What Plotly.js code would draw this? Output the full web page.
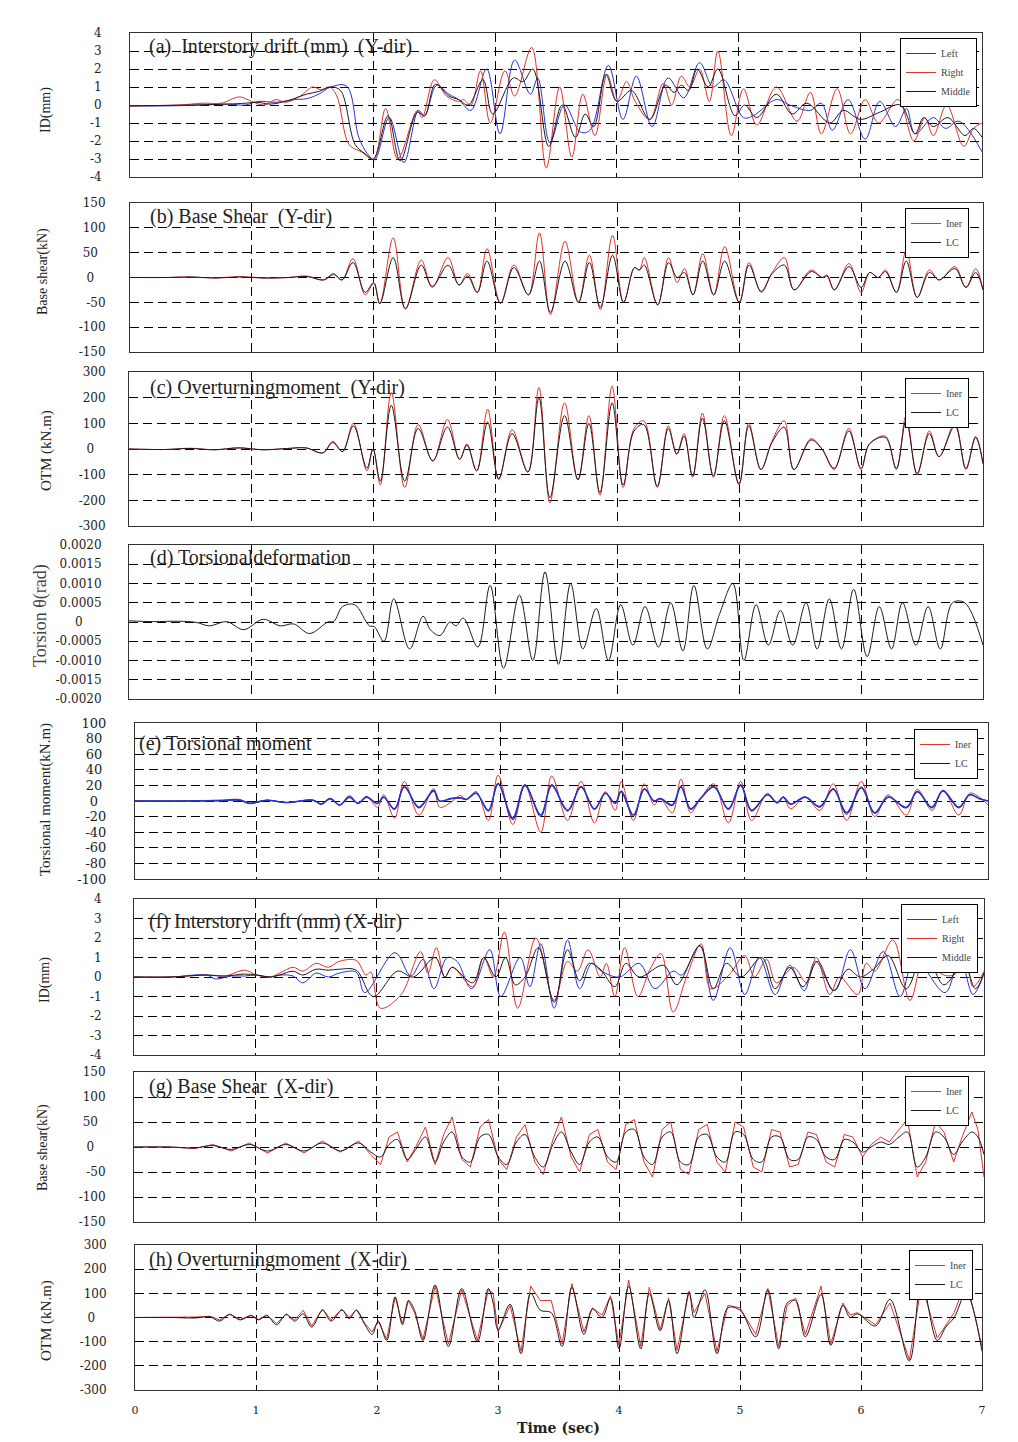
<!DOCTYPE html>
<html><head><meta charset="utf-8">
<script src="https://cdn.plot.ly/plotly-3.0.1.min.js"></script>
<style>html,body{margin:0;padding:0;background:#fff}#chart{width:1018px;height:1442px}</style>
</head><body><div id="chart"></div>
<script>
// ---------- DATA ----------
// (a) Interstory drift Y-dir
const aLeftT = [0,0.3,0.6,0.8,0.95,1.05,1.2,1.35,1.45,1.55,1.65,1.78,1.88,1.95,2.01,2.13,2.25,2.37,2.42,2.52,2.62,2.7,2.8,2.93,3.04,3.16,3.29,3.35,3.45,3.57,3.7,3.78,3.93,4.05,4.16,4.29,4.42,4.55,4.68,4.79,4.88,5.04,5.12,5.31,5.42,5.59,5.68,5.77,5.9,6.04,6.16,6.29,6.38,6.45,6.6,6.7,6.81,7.0];
const aLeftV = [-0.05,-0.05,0,0.05,0,0.2,0.15,0.3,0.35,0.6,1.0,1.05,-1.8,-2.7,-3.05,-0.7,-3.2,-0.3,-0.6,1.1,0.6,0.3,-0.3,2.0,-1.6,2.5,0.6,1.5,-2.1,0,-1.5,-1.4,2.2,-0.8,1.6,-1.2,1.5,0.4,2.35,1.0,1.4,-0.7,-0.6,0.3,0,-0.3,0.1,-1.4,0.3,-1.9,0.2,-1.2,-0.2,-1.6,-0.7,-1.3,-0.9,-2.6];
const aRightT = [0,0.4,0.6,0.75,0.9,1.0,1.1,1.2,1.28,1.4,1.5,1.57,1.64,1.7,1.8,1.9,2.0,2.1,2.2,2.36,2.4,2.5,2.6,2.7,2.74,2.8,2.88,2.96,3.08,3.16,3.3,3.42,3.53,3.63,3.72,3.82,3.92,4.0,4.08,4.15,4.27,4.38,4.45,4.53,4.6,4.68,4.76,4.83,4.94,5.04,5.15,5.31,5.48,5.59,5.68,5.81,5.92,6.04,6.15,6.31,6.44,6.53,6.6,6.71,6.85,6.93,7.0];
const aRightV = [-0.05,0,0.1,0.1,0.45,0.2,0,0.3,0.15,0.5,1.0,0.85,1.0,0.5,-2.2,-2.6,-3.0,-0.2,-3.0,-0.3,-0.7,1.4,0.5,0.2,0.3,0,1.9,-1.0,1.9,0.5,3.2,-3.5,1.0,-2.9,0.6,-1.7,1.7,0.2,1.3,0.2,-0.8,1.2,0,1.6,1.0,2.0,0.2,3.0,-1.7,0.9,-1.1,1.0,-0.9,0.7,-1.6,0.9,-1.6,0.3,-1.0,0.3,-2.0,-0.7,-1.7,0,-2.3,-1.3,-1.0];
const aMidT = [0,0.5,0.8,0.95,1.05,1.15,1.3,1.45,1.55,1.65,1.73,1.85,1.93,2.0,2.12,2.22,2.36,2.42,2.51,2.62,2.7,2.78,2.9,2.98,3.15,3.23,3.31,3.44,3.55,3.66,3.74,3.81,3.91,4.0,4.12,4.27,4.4,4.47,4.53,4.59,4.66,4.75,4.83,4.97,5.05,5.15,5.31,5.44,5.56,5.75,5.86,6.0,6.16,6.33,6.45,6.52,6.6,6.72,6.86,6.93,7.0];
const aMidV = [-0.05,0,0.05,0.1,0.15,0.05,0.25,0.6,0.75,1.0,0.8,-2.2,-2.7,-3.0,-0.6,-3.1,-0.4,-0.6,1.15,0.5,0.3,0,1.4,-0.5,1.5,1.3,2.0,-2.3,0,-1.8,-0.5,-1.2,1.7,0.2,0.8,-0.8,1.1,0.7,1.1,0.8,2.0,1.0,2.0,-0.6,0,-0.7,0.6,-0.5,0.1,-1.0,-0.3,-0.8,-0.4,0,-1.6,-0.7,-1.2,-0.7,-1.7,-1.3,-1.8];

// (b) Base shear Y-dir
const bT = [0,0.3,0.5,0.7,0.9,1.1,1.3,1.45,1.59,1.67,1.74,1.83,1.93,2.0,2.05,2.16,2.26,2.39,2.48,2.61,2.7,2.77,2.85,2.93,3.04,3.15,3.27,3.36,3.45,3.57,3.68,3.77,3.86,3.96,4.05,4.14,4.18,4.22,4.33,4.42,4.49,4.55,4.62,4.70,4.79,4.88,5.0,5.08,5.18,5.27,5.37,5.45,5.59,5.68,5.72,5.78,5.9,6.0,6.07,6.14,6.2,6.29,6.37,6.46,6.56,6.64,6.77,6.86,6.94,7.0];
const bIner = [0,0,1,-1,2,-1,0,3,-5,8,-5,38,-35,-12,-53,80,-63,35,-20,40,-15,8,-30,58,-52,25,-35,90,-75,73,-50,45,-65,85,-50,20,15,40,-55,40,-10,18,-35,48,-35,62,-50,30,-30,10,40,-25,15,0,5,-25,28,-30,10,0,15,-30,55,-40,15,-5,22,-20,18,-25];
const bLC = [0,0,1,-1,1,-1,0,2,-5,6,-5,30,-30,-10,-53,40,-63,25,-18,25,-15,3,-30,33,-52,20,-35,33,-70,33,-50,30,-60,45,-50,20,15,25,-55,30,0,10,-35,33,-35,33,-50,25,-28,8,25,-25,12,0,3,-25,22,-20,10,0,12,-30,33,-40,10,-5,18,-20,10,-25];

// (c) Overturning moment Y-dir
const cT = [0,0.3,0.5,0.7,0.9,1.1,1.3,1.45,1.59,1.67,1.75,1.84,1.95,2.0,2.06,2.15,2.26,2.37,2.49,2.61,2.71,2.77,2.85,2.94,3.03,3.14,3.27,3.36,3.45,3.57,3.68,3.77,3.86,3.96,4.05,4.14,4.22,4.33,4.42,4.49,4.55,4.62,4.70,4.79,4.88,5.0,5.08,5.18,5.27,5.37,5.45,5.59,5.68,5.78,5.9,6.0,6.07,6.2,6.29,6.37,6.46,6.56,6.64,6.77,6.86,6.94,7.0];
const cIner = [0,-2,3,-3,5,-3,2,5,-15,30,-10,100,-85,0,-140,220,-150,95,-48,115,-40,20,-85,155,-120,75,-90,240,-210,180,-120,130,-180,245,-150,80,110,-150,90,-20,60,-110,140,-110,130,-140,100,-80,30,110,-80,40,0,-80,80,-80,20,50,-80,130,-100,70,-30,100,-80,50,-60];
const cLC = [0,-2,2,-3,4,-3,2,4,-15,25,-10,90,-75,0,-125,170,-125,80,-45,85,-40,15,-85,105,-115,60,-90,200,-190,130,-120,100,-170,180,-140,70,95,-145,80,-20,50,-105,120,-105,110,-135,90,-80,25,85,-80,35,0,-75,70,-75,20,45,-75,110,-95,60,-30,90,-75,45,-55];

// (d) Torsional deformation
const dT = [0,0.2,0.4,0.55,0.66,0.8,0.94,1.1,1.24,1.35,1.48,1.63,1.68,1.75,1.85,1.97,2.01,2.09,2.17,2.3,2.41,2.47,2.55,2.63,2.68,2.74,2.86,2.96,3.07,3.2,3.31,3.41,3.52,3.62,3.72,3.83,3.93,4.03,4.13,4.23,4.34,4.44,4.54,4.63,4.74,4.84,4.95,5.04,5.14,5.24,5.34,5.44,5.55,5.64,5.74,5.84,5.94,6.05,6.15,6.25,6.34,6.45,6.55,6.65,6.75,6.85,7.0];
const dV = [0.00003,0.00001,0.00002,-0.00001,-0.0001,0.00001,-0.0002,0.00007,-0.0001,-0.00005,-0.0003,0,0.00002,0.0004,0.00045,-0.0001,-0.00012,-0.0005,0.0006,-0.0007,0.00015,-0.0002,-0.00035,0,-0.0001,0.0001,-0.00065,0.00095,-0.0012,0.0007,-0.001,0.0013,-0.0011,0.001,-0.0007,0.00035,-0.001,0.00045,-0.0006,0.0004,-0.00065,0.0005,-0.00075,0.00095,-0.0007,0.0002,0.001,-0.001,0.00045,-0.0006,0.0003,-0.0006,0.0005,-0.0007,0.0006,-0.0007,0.00085,-0.0009,0.0004,-0.0007,0.0005,-0.0006,0.0004,-0.0007,0.0005,0.0005,-0.0006];

// (e) Torsional moment
const eT = [0,0.4,0.7,0.86,0.94,1.08,1.24,1.46,1.53,1.6,1.68,1.76,1.83,1.9,1.99,2.04,2.13,2.21,2.33,2.45,2.5,2.59,2.67,2.72,2.8,2.9,2.98,3.1,3.2,3.33,3.42,3.55,3.66,3.77,3.86,3.94,3.99,4.09,4.18,4.26,4.31,4.41,4.48,4.56,4.64,4.75,4.87,4.97,5.06,5.19,5.27,5.32,5.38,5.5,5.62,5.73,5.84,5.96,6.07,6.18,6.33,6.42,6.54,6.63,6.76,6.85,6.93,7.0];
const eIner = [0,0,1,2,-3,1,-2,1,-4,3,-5,7,-3,6,-8,8,-22,25,-18,16,-8,-2,7,2,12,-25,33,-30,20,-40,32,-25,25,-28,12,-12,25,-25,22,-5,3,-15,28,-15,3,22,-28,25,-25,10,-3,5,-10,5,-12,22,-25,25,-20,8,-18,15,-12,14,-18,10,5,-5];
const eLC = [0,0,0.5,1,-3,1,-2,1,-4,3,-5,5,-3,5,-3,5,-11,19,-9,14,0,3,4,2,10,-13,23,-24,21,-20,21,-13,19,-11,10,-3,13,-20,16,0,3,-6,19,-11,3,19,-11,21,-13,8,-2,5,-4,5,-8,16,-17,18,-16,5,-9,12,-9,13,-9,8,3,0];
const eBlue = [0,0,0.5,1,-3,1,-2,1,-4,3,-5,5,-3,5,-3,5,-10,18,-8,13,0,3,4,2,10,-12,22,-22,20,-18,20,-12,18,-10,10,-3,12,-18,15,0,3,-5,18,-10,3,18,-10,20,-12,8,-2,5,-4,5,-7,15,-15,17,-15,5,-8,12,-8,13,-8,8,3,0];

// (f) Interstory drift X-dir
const fLeftT = [0,0.3,0.6,0.67,0.8,0.91,1.01,1.12,1.2,1.31,1.39,1.5,1.6,1.69,1.83,1.9,2.15,2.28,2.38,2.47,2.58,2.66,2.78,2.93,3.02,3.18,3.26,3.35,3.46,3.57,3.67,3.77,3.85,4.0,4.16,4.29,4.44,4.51,4.66,4.77,4.91,5.03,5.15,5.28,5.4,5.52,5.61,5.77,5.9,6.02,6.17,6.31,6.43,6.68,6.8,6.91,7.0];
const fLeftV = [0,0,0.1,-0.1,0.05,0.05,0.1,0,0.1,0.05,-0.3,0.2,0,0.2,0.25,-0.8,1.25,0.05,0.9,-0.6,1.0,0.8,-0.6,1.4,-1.0,1.0,-0.5,1.7,-1.6,1.9,-0.6,0.7,0.3,0,0.7,-0.6,0.3,0.1,1.6,-1.2,1.5,-0.9,1.0,-0.9,0.6,-0.7,0.8,-0.7,1.4,-0.6,1.3,-1.0,0.9,-0.8,1.0,-0.9,0.2];
const fRightT = [0,0.3,0.6,0.75,0.91,1.01,1.12,1.2,1.31,1.39,1.5,1.6,1.69,1.83,1.91,1.95,2.03,2.2,2.36,2.42,2.49,2.56,2.62,2.79,2.88,2.96,3.05,3.16,3.31,3.46,3.57,3.65,3.74,3.84,3.89,3.96,4.04,4.15,4.25,4.34,4.44,4.55,4.67,4.75,4.9,5.03,5.11,5.21,5.29,5.43,5.54,5.62,5.73,5.81,5.96,6.03,6.1,6.25,6.39,6.53,6.64,6.75,6.85,6.91,7.0];
const fRightV = [0,0,0.1,0.05,0.35,0.1,0,0.2,0.5,0.3,0.7,0.5,0.8,0.85,0.1,0.25,-1.6,-0.9,1.3,0.2,1.5,0,0.5,-0.5,1.0,0,2.3,-1.6,2.0,-1.2,0.8,0.3,1.4,0,0.7,-1.0,1.5,-1.0,0.4,1.2,-1.8,0,1.7,-0.6,0.1,1.1,0,0.9,-0.3,0.5,-0.3,1.0,-0.9,0,-0.9,0.7,0.3,1.9,-1.2,1.8,0.2,0.1,0.8,-0.5,0.3];
const fMidT = [0,0.3,0.6,0.75,0.91,1.01,1.12,1.2,1.31,1.39,1.5,1.6,1.69,1.83,1.97,2.17,2.3,2.48,2.56,2.62,2.79,2.88,2.98,3.06,3.14,3.22,3.33,3.46,3.57,3.67,3.75,3.84,3.96,4.05,4.16,4.36,4.47,4.66,4.77,4.88,5.0,5.17,5.28,5.4,5.51,5.63,5.76,5.88,5.98,6.09,6.21,6.36,6.51,6.67,6.83,6.93,7.0];
const fMidV = [0,0,0.1,0.05,0.15,0.1,0,0.1,0.3,0.1,0.4,0.35,0.4,0.35,-1.0,0.3,0,1.0,0,0.5,-0.3,1.0,0,1.0,-0.4,0,1.5,-1.3,1.4,-0.2,0.7,0.4,-0.5,0.7,0,0.6,-0.4,1.6,-0.6,0.7,0,1.0,-0.6,0.5,-0.5,0.8,-0.7,0.4,0,0.4,1.1,-0.6,1.3,-0.4,0.7,-0.6,0.2];

// (g) Base shear X-dir
const gT = [0,0.3,0.5,0.65,0.8,0.95,1.1,1.25,1.4,1.55,1.7,1.85,1.95,2.03,2.1,2.17,2.25,2.32,2.4,2.48,2.55,2.62,2.7,2.77,2.85,2.92,3.0,3.07,3.15,3.22,3.3,3.37,3.45,3.52,3.6,3.67,3.75,3.82,3.9,3.97,4.05,4.12,4.2,4.27,4.35,4.42,4.5,4.57,4.65,4.72,4.8,4.87,4.95,5.02,5.1,5.17,5.25,5.32,5.4,5.47,5.55,5.62,5.7,5.77,5.85,5.92,6.0,6.07,6.15,6.22,6.3,6.37,6.45,6.52,6.6,6.67,6.75,6.82,6.9,6.95,7.0];
const gIner = [0,0,-3,5,-8,8,-12,8,-12,12,-10,12,-15,-35,20,30,-30,0,40,-35,25,60,-25,-40,40,55,-25,-45,20,45,-30,-55,15,60,-20,-50,25,35,-30,-45,45,55,-30,-60,35,50,-45,-55,35,45,-30,-50,50,40,-40,-50,35,30,-40,-35,30,25,-30,-40,25,20,-20,5,20,10,35,55,-60,-30,50,30,-30,20,70,35,-60];
const gLC = [0,0,-2,3,-5,5,-8,5,-8,8,-8,8,-10,-20,5,15,-25,-5,20,-30,10,30,-20,-30,20,25,-20,-35,10,25,-20,-40,5,30,-10,-35,10,20,-20,-30,30,35,-20,-35,20,30,-30,-35,20,25,-20,-30,30,25,-25,-30,20,20,-25,-25,20,15,-20,-25,15,10,-10,0,10,5,20,30,-40,-20,30,20,-15,10,30,20,-15];

// (h) Overturning moment X-dir
const hT = [0,0.3,0.5,0.62,0.7,0.78,0.87,0.96,1.02,1.09,1.17,1.25,1.32,1.39,1.46,1.55,1.62,1.71,1.77,1.83,1.9,1.96,2.01,2.08,2.15,2.21,2.26,2.31,2.38,2.48,2.59,2.7,2.83,2.92,2.96,3.0,3.1,3.19,3.27,3.35,3.44,3.53,3.61,3.71,3.78,3.86,3.93,4.0,4.08,4.18,4.25,4.34,4.41,4.48,4.58,4.62,4.71,4.81,4.9,5.0,5.13,5.23,5.32,5.39,5.46,5.54,5.67,5.75,5.85,5.91,5.97,6.12,6.24,6.4,6.5,6.63,6.7,6.77,6.87,7.0];
const hIner = [0,0,2,5,-10,15,-8,10,-8,10,-25,15,-10,30,-35,35,-10,35,0,32,-25,-60,-15,-90,85,-25,70,20,-90,130,-110,115,-95,115,100,-60,50,-140,130,70,70,-110,140,-60,40,10,90,-115,155,-120,125,-50,80,-135,110,20,100,-140,50,40,-70,120,-120,50,80,-70,130,-110,60,10,20,-30,60,-175,140,-85,-30,20,155,-120];
const hLC = [0,0,-2,3,-15,12,-10,8,-10,8,-30,12,-15,15,-40,30,-15,30,-5,30,-30,-70,-15,-95,85,-30,70,30,-95,135,-120,120,-100,120,60,-50,55,-150,100,30,20,-120,125,-70,35,0,80,-130,130,-130,100,-55,70,-150,105,0,115,-150,40,30,-80,115,-130,60,70,-80,95,-115,50,0,15,-35,75,-180,150,-95,-40,0,100,-140];

// ---------- TICKS & TEXT ----------
const xTickVals = [0,1,2,3,4,5,6,7];
const xTickText = ['0','1','2','3','4','5','6','7'];
const idTickVals = [-4,-3,-2,-1,0,1,2,3,4];
const idTickText = ['-4','-3','-2','-1','0','1','2','3','4'];
const bsTickVals = [-150,-100,-50,0,50,100,150];
const bsTickText = ['-150','-100','-50','0\u00a0\u00a0\u00a0','50\u00a0\u00a0','100','150'];
const otmTickVals = [-300,-200,-100,0,100,200,300];
const otmTickText = ['-300','-200','-100','0\u00a0\u00a0\u00a0','100','200','300'];
const tdTickVals = [-0.002,-0.0015,-0.001,-0.0005,0,0.0005,0.001,0.0015,0.002];
const tdTickText = ['-0.0020','-0.0015','-0.0010','-0.0005','0\u00a0\u00a0\u00a0\u00a0\u00a0','0.0005','0.0010','0.0015','0.0020'];
const tmTickVals = [-100,-80,-60,-40,-20,0,20,40,60,80,100];
const tmTickText = ['-100','-80','-60','-40','-20','0\u00a0\u00a0','20\u00a0','40\u00a0','60\u00a0','80\u00a0','100'];

const panelTitles = ['(a)\u00a0 Interstory drift (mm)\u00a0 (Y-dir)','(b) Base Shear\u00a0 (Y-dir)','(c) Overturningmoment\u00a0 (Y-dir)','(d) Torsionaldeformation','(e) Torsional moment','(f) Interstory drift (mm) (X-dir)','(g) Base Shear\u00a0 (X-dir)','(h) Overturningmoment\u00a0 (X-dir)'];
const yTitles = ['ID(mm)','Base shear(kN)','OTM (kN.m)','Torsion \u03b8(rad)','Torsional moment(kN.m)','ID(mm)','Base shear(kN)','OTM (kN.m)'];
const xTitle = 'Time (sec)';

// ---------- LAYOUT GEOMETRY ----------
const W = 1018, H = 1442;
const panels = [
  {x0:130,x1:982,y0:33,y1:177,r:[-4,4],tv:idTickVals,tt:idTickText,so:25,fs:12, tx:147,ty:47, yx:46,yy:110,ys:14},
  {x0:130,x1:983,y0:203,y1:352,r:[-150,150],tv:bsTickVals,tt:bsTickText,so:21,fs:12, tx:148,ty:217, yx:43,yy:272,ys:14},
  {x0:129,x1:983,y0:372,y1:526,r:[-300,300],tv:otmTickVals,tt:otmTickText,so:20,fs:12, tx:148,ty:387, yx:46,yy:451,ys:15},
  {x0:129,x1:983,y0:545,y1:699,r:[-0.002,0.002],tv:tdTickVals,tt:tdTickText,so:24,fs:12, tx:148,ty:557, yx:40,yy:616,ys:18},
  {x0:135,x1:988,y0:723,y1:879,r:[-100,100],tv:tmTickVals,tt:tmTickText,so:25,fs:13, tx:137,ty:743, yx:45,yy:800,ys:15},
  {x0:134,x1:984,y0:899,y1:1055,r:[-4,4],tv:idTickVals,tt:idTickText,so:29,fs:12, tx:147,ty:921, yx:45,yy:980,ys:14},
  {x0:134,x1:984,y0:1072,y1:1222,r:[-150,150],tv:bsTickVals,tt:bsTickText,so:25,fs:12, tx:147,ty:1086, yx:43,yy:1148,ys:14},
  {x0:135,x1:982,y0:1245,y1:1390,r:[-300,300],tv:otmTickVals,tt:otmTickText,so:25,fs:12, tx:147,ty:1259, yx:46,yy:1321,ys:15}
];
const legendSpec = [
  {key:'legend', right:977, top:38},
  {key:'legend2', right:969, top:208},
  {key:'legend3', right:969, top:378},
  {key:'legend4', right:978, top:729},
  {key:'legend5', right:978, top:904},
  {key:'legend6', right:969, top:1076},
  {key:'legend7', right:973, top:1250}
];

const RED = '#e2302a', BLUE = '#2233d4', BLACK = '#1c1c1c';
const traces = [];
function add(i, x, y, name, color, legend, extra) {
  const s = i === 1 ? '' : String(i);
  const t = {type:'scatter', mode:'lines', x:x, y:y, name:name, xaxis:'x'+s, yaxis:'y'+s,
    line:{color:color, width:1, shape:'spline', smoothing:1}, hoverinfo:'skip', showlegend:!!legend};
  if (legend) t.legend = legend;
  traces.push(Object.assign(t, extra || {}));
}
add(1, aLeftT, aLeftV, 'Left', BLUE, 'legend');
add(1, aRightT, aRightV, 'Right', RED, 'legend');
add(1, aMidT, aMidV, 'Middle', BLACK, 'legend');
add(2, bT, bIner, 'Iner', RED, 'legend2');
add(2, bT, bLC, 'LC', BLACK, 'legend2');
add(3, cT, cIner, 'Iner', RED, 'legend3');
add(3, cT, cLC, 'LC', BLACK, 'legend3');
add(4, dT, dV, 'Torsion', BLACK, null);
add(5, eT, eIner, 'Iner', RED, 'legend4');
add(5, eT, eLC, 'LC', BLACK, 'legend4');
add(5, eT, eBlue, 'LC (blue)', BLUE, null, {line:{color:BLUE, width:1.6, shape:'spline', smoothing:1}});
add(6, fLeftT, fLeftV, 'Left', BLUE, 'legend5');
add(6, fRightT, fRightV, 'Right', RED, 'legend5');
add(6, fMidT, fMidV, 'Middle', BLACK, 'legend5');
add(7, gT, gIner, 'Iner', RED, 'legend6', {line:{color:RED, width:1, shape:'linear'}});
add(7, gT, gLC, 'LC', BLACK, 'legend6');
add(8, hT, hIner, 'Iner', RED, 'legend7', {line:{color:RED, width:1, shape:'linear'}});
add(8, hT, hLC, 'LC', BLACK, 'legend7');

const layout = {width:W, height:H, margin:{l:0,r:0,t:0,b:0,pad:0}, paper_bgcolor:'#fff', plot_bgcolor:'#fff',
  font:{family:'Liberation Serif', color:'#222'}, showlegend:true, annotations:[]};
const gridDash = '9px,5px';
panels.forEach(function(p, k) {
  const i = k + 1, s = i === 1 ? '' : String(i);
  layout['xaxis'+s] = {domain:[p.x0/W, p.x1/W], range:[0,7], anchor:'y'+s, tickmode:'array', tickvals:xTickVals, ticktext:xTickText,
    showticklabels: i === 8, ticks:'', showgrid:true, gridcolor:'#000', gridwidth:1, griddash:gridDash, zeroline:false,
    showline:true, mirror:true, linecolor:'#333', linewidth:1, fixedrange:true,
    tickfont:{family:'DejaVu Serif', size:11, color:'#222'}, ticklabelstandoff:10};
  layout['yaxis'+s] = {domain:[1-p.y1/H, 1-p.y0/H], range:p.r, anchor:'x'+s, tickmode:'array', tickvals:p.tv, ticktext:p.tt,
    ticks:'', showgrid:true, gridcolor:'#000', gridwidth:1, griddash:gridDash, zeroline:false,
    showline:true, mirror:true, linecolor:'#333', linewidth:1, fixedrange:true,
    tickfont:{family:'DejaVu Serif', size:p.fs, color:'#222'}, ticklabelstandoff:p.so};
  layout.annotations.push({text:panelTitles[k], xref:'paper', yref:'paper', x:p.tx/W, y:1-p.ty/H, xanchor:'left', yanchor:'middle',
    showarrow:false, font:{family:'Liberation Serif', size:20, color:'#222'}});
  layout.annotations.push({text:yTitles[k], xref:'paper', yref:'paper', x:p.yx/W, y:1-p.yy/H, xanchor:'center', yanchor:'middle',
    textangle:-90, showarrow:false, font:{family:'Liberation Serif', size:p.ys, color: i === 4 ? '#444' : '#222'}});
});
layout.xaxis8.title = {text:xTitle, font:{family:'DejaVu Serif', size:14, color:'#222', weight:'bold'}, standoff:6};
legendSpec.forEach(function(l) {
  layout[l.key] = {x:l.right/W, y:1-l.top/H, xref:'paper', yref:'paper', xanchor:'right', yanchor:'top',
    bgcolor:'#fff', bordercolor:'#000', borderwidth:1, font:{family:'Liberation Serif', size:10, color:'#444'},
    tracegroupgap:0, itemwidth:30, traceorder:'normal'};
});

Plotly.newPlot('chart', traces, layout, {staticPlot:true, displayModeBar:false});
</script>
</body></html>
